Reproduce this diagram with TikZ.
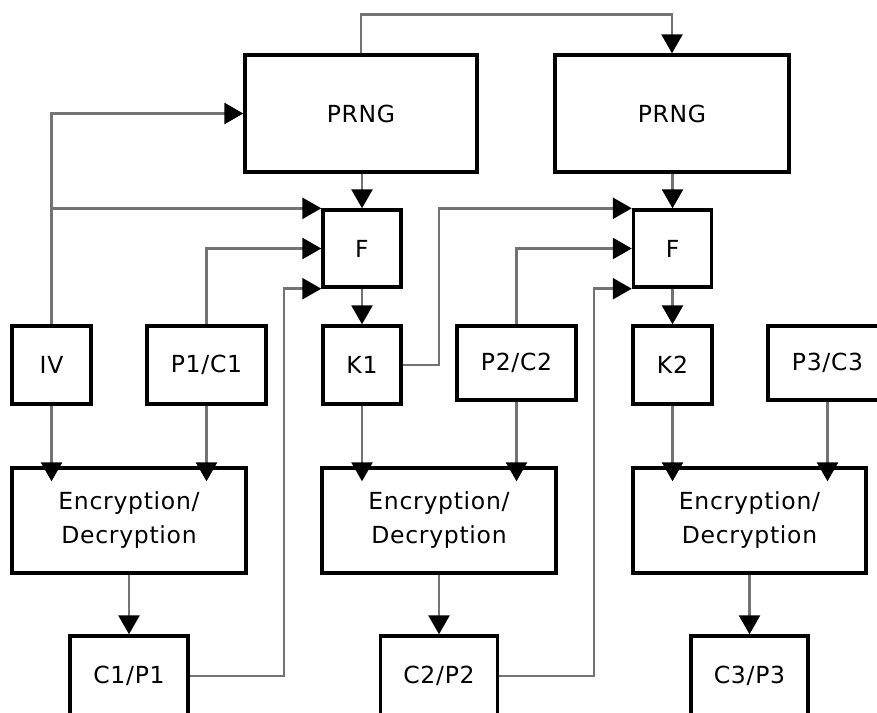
\documentclass[tikz,border=0pt]{standalone}
\usepackage{fontspec}
\setmainfont{DejaVu Sans}[LetterSpace=3]
\usetikzlibrary{arrows.meta,calc}

\tikzset{
  box/.style={draw=black, line width=3.4pt, fill=white, inner sep=0pt,
              align=center, font=\fontsize{23.5}{34}\selectfont},
  conn/.style={draw=black!55, line width=2.6pt,
               -{Triangle[length=19pt,width=21pt,color=black,fill=black]}},
}

\begin{document}
\begin{tikzpicture}[x=1pt,y=-1pt]
  \useasboundingbox (0,0) rectangle (877,712);
  \clip (0,0) rectangle (877,712);

  % generators
  \node[box, minimum width=232pt, minimum height=117pt] (prng1) at (361,113.5) {PRNG};
  \node[box, minimum width=234pt, minimum height=117pt] (prng2) at (672,113.5) {PRNG};

  % key functions
  \node[box, minimum width=78pt, minimum height=77pt] (f1) at (362,248.5) {F};
  \node[box, minimum width=78pt, minimum height=77pt] (f2) at (672.5,248.5) {F};

  % inputs and keys
  \node[box, minimum width=79pt, minimum height=78pt] (iv) at (51.5,365) {IV};
  \node[box, minimum width=119pt, minimum height=78pt] (p1) at (206.5,365) {P1/C1};
  \node[box, minimum width=78pt, minimum height=78pt] (k1) at (362,365) {K1};
  \node[box, minimum width=119pt, minimum height=74pt] (p2) at (516.5,363) {P2/C2};
  \node[box, minimum width=79pt, minimum height=78pt] (k2) at (672.5,365) {K2};
  \node[box, minimum width=119pt, minimum height=74pt] (p3) at (827.5,363) {P3/C3};

  % cipher stages
  \node[box, minimum width=234pt, minimum height=105pt] (e1) at (129,520.5) {Encryption/\\Decryption};
  \node[box, minimum width=234pt, minimum height=105pt] (e2) at (439,520.5) {Encryption/\\Decryption};
  \node[box, minimum width=233pt, minimum height=105pt] (e3) at (749.5,520.5) {Encryption/\\Decryption};

  % outputs
  \node[box, minimum width=118pt, minimum height=80pt] (c1) at (129,676) {C1/P1};
  \node[box, minimum width=117pt, minimum height=80pt] (c2) at (439,676) {C2/P2};
  \node[box, minimum width=117pt, minimum height=80pt] (c3) at (749.5,676) {C3/P3};

  % generator chaining
  \draw[conn] (prng1.north) -- ++(0,-39) -| (prng2.north);

  % IV feeds the first generator and the first F
  \draw[conn] (iv.north) |- (prng1.west);
  \draw[conn] (iv.north |- f1.north west) -- (f1.north west);
  \draw[conn] (p1.north) |- (f1.west);
  \draw[conn] (c1.east) -- (284,676) |- (f1.south west);

  \draw[conn] (prng1.south -| f1.north) -- (f1.north);
  \draw[conn] (f1) -- (k1);

  % second stage inputs to F
  \draw[conn] (k1.east) -- (439,365) |- (f2.north west);
  \draw[conn] (p2.north) |- (f2.west);
  \draw[conn] (c2.east) -- (594,676) |- (f2.south west);

  \draw[conn] (prng2.south -| f2.north) -- (f2.north);
  \draw[conn] (f2) -- (k2);

  % operands into the cipher stages
  \draw[conn] (iv) -- ($(iv.south |- e1.north)+(0,15)$);
  \draw[conn] (p1) -- ($(p1.south |- e1.north)+(0,15)$);
  \draw[conn] (k1) -- ($(k1.south |- e2.north)+(0,15)$);
  \draw[conn] (p2) -- ($(p2.south |- e2.north)+(0,15)$);
  \draw[conn] (k2) -- ($(k2.south |- e3.north)+(0,15)$);
  \draw[conn] (p3) -- ($(p3.south |- e3.north)+(0,15)$);

  % cipher stage outputs
  \draw[conn] (e1) -- (c1);
  \draw[conn] (e2) -- (c2);
  \draw[conn] (e3) -- (c3);
\end{tikzpicture}
\end{document}
